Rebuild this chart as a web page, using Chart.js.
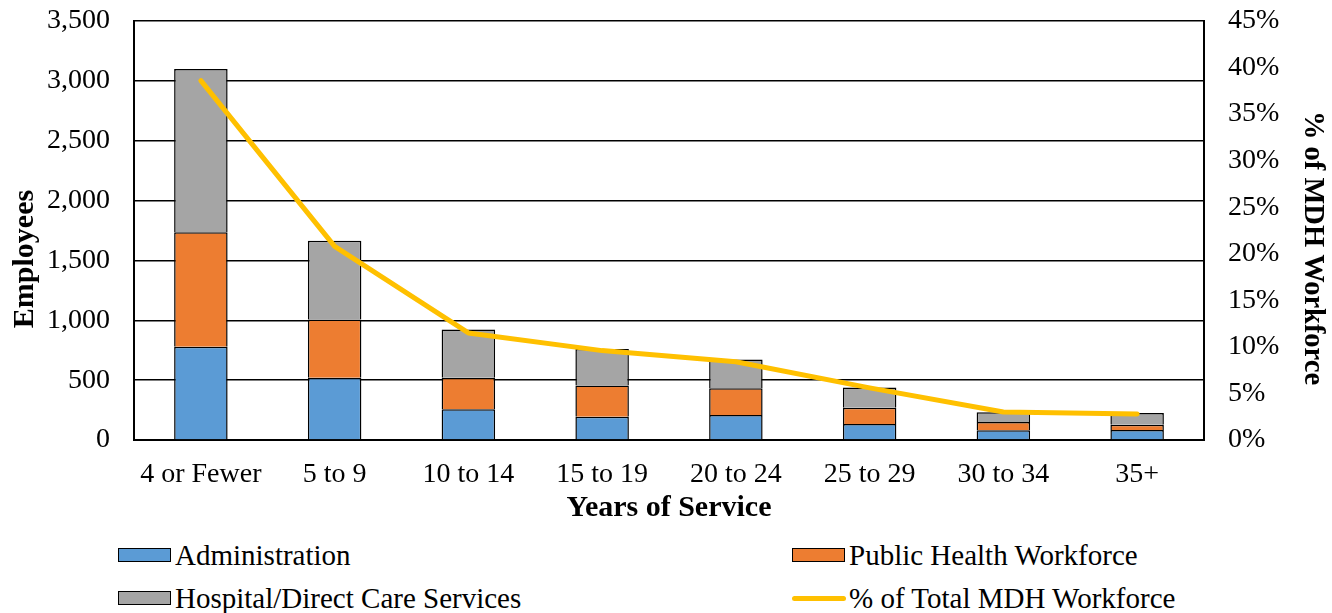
<!DOCTYPE html>
<html>
<head>
<meta charset="utf-8">
<script src="https://cdn.jsdelivr.net/npm/chart.js@4"></script>
<style>
  body { margin: 0; background: #fff; }
  #wrap { position: relative; width: 1332px; height: 613px; }
  #chart { position: absolute; left: 0; top: 0; }
  .leg { position: absolute; font-family: "Liberation Serif", "Times New Roman", serif; font-size: 29px; color: #000; white-space: nowrap; line-height: 32px; }
  .sw { position: absolute; width: 51px; height: 12px; border: 1.5px solid #000; }
  .ln { position: absolute; width: 54px; height: 5px; border-radius: 3px; }
</style>
</head>
<body>
<div id="wrap">
  <canvas id="chart" width="1332" height="530"></canvas>
  <div id="legend"></div>
</div>
<script>
const categories = ['4 or Fewer', '5 to 9', '10 to 14', '15 to 19', '20 to 24', '25 to 29', '30 to 34', '35+'];
const administration = [778, 519, 256, 194, 208, 133, 81, 83];
const publicHealth = [958, 487, 263, 262, 225, 136, 69, 45];
const hospitalCare = [1364, 658, 403, 305, 239, 170, 81, 97];
const pctTotal = [38.6, 20.8, 11.5, 9.6, 8.4, 5.6, 3.0, 2.8];
const employeeTicks = [0, 500, 1000, 1500, 2000, 2500, 3000, 3500];
const pctTicks = [0, 5, 10, 15, 20, 25, 30, 35, 40, 45];

const font = 'Liberation Serif';

// vertical axis titles sit a bit below the plot's middle in the original,
// so draw them by hand
const sideTitles = {
  id: 'sideTitles',
  afterDraw(c) {
    const g = c.ctx;
    g.save();
    g.fillStyle = '#000';
    g.textAlign = 'center';
    g.textBaseline = 'middle';
    g.font = 'bold 30px "' + font + '"';
    g.translate(25, 259);
    g.rotate(-Math.PI / 2);
    g.fillText('Employees', 0, 0);
    g.restore();
    g.save();
    g.fillStyle = '#000';
    g.textAlign = 'center';
    g.textBaseline = 'middle';
    g.font = 'bold 28.5px "' + font + '"';
    g.translate(1312, 248);
    g.rotate(Math.PI / 2);
    g.fillText('% of MDH Workforce', 0, 0);
    g.restore();
  }
};

var ctx = document.getElementById('chart').getContext('2d');
var chart = new Chart(ctx, {
  data: {
    labels: categories,
    datasets: [
      { type: 'line', label: '% of Total MDH Workforce', data: pctTotal, yAxisID: 'y1',
        borderColor: '#FFC000', backgroundColor: '#FFC000', borderWidth: 5,
        pointRadius: 0, borderCapStyle: 'round', borderJoinStyle: 'round', order: 0 },
      { type: 'bar', label: 'Administration', data: administration, yAxisID: 'y',
        backgroundColor: '#5B9BD5', borderColor: '#000', borderWidth: 1.5, order: 1 },
      { type: 'bar', label: 'Public Health Workforce', data: publicHealth, yAxisID: 'y',
        backgroundColor: '#ED7D31', borderColor: '#000', borderWidth: 1.5, order: 1 },
      { type: 'bar', label: 'Hospital/Direct Care Services', data: hospitalCare, yAxisID: 'y',
        backgroundColor: '#A5A5A5', borderColor: '#000', borderWidth: 1.5, order: 1 }
    ]
  },
  options: {
    responsive: false,
    animation: false,
    layout: { padding: { top: 21 } },
    datasets: { bar: { categoryPercentage: 1.0, barPercentage: 0.4 } },
    plugins: { legend: { display: false }, tooltip: { enabled: false } },
    scales: {
      x: {
        stacked: true,
        grid: { display: false },
        border: { color: '#000', width: 2 },
        ticks: { color: '#000', font: { family: font, size: 28 }, padding: 10, maxRotation: 0 },
        title: { display: true, text: 'Years of Service', color: '#000',
                 font: { family: font, size: 30, weight: 'bold' }, padding: { top: 0, bottom: 4 } },
        afterFit: s => { s.height = 90; }
      },
      y: {
        stacked: true,
        position: 'left',
        min: 0, max: 3500,
        afterBuildTicks: s => { s.ticks = employeeTicks.map(v => ({ value: v })); },
        grid: { color: '#000', lineWidth: 1.5, drawTicks: false },
        border: { color: '#000', width: 2 },
        ticks: { color: '#000', font: { family: font, size: 28 }, padding: 24,
                 callback: v => v.toLocaleString('en-US') },
        afterFit: s => { s.width = 134; s.paddingTop = 0; s.paddingBottom = 0; }
      },
      y1: {
        position: 'right',
        min: 0, max: 45,
        afterBuildTicks: s => { s.ticks = pctTicks.map(v => ({ value: v })); },
        grid: { display: false, drawTicks: false },
        border: { color: '#000', width: 2 },
        ticks: { color: '#000', font: { family: font, size: 28 }, padding: 24,
                 callback: v => v + '%' },
        afterFit: s => { s.width = 128; s.paddingTop = 0; s.paddingBottom = 0; }
      }
    }
  },
  plugins: [sideTitles]
});

// legend in two columns, built from the chart's datasets
const legendSpots = {
  'Administration': [118, 555],
  'Public Health Workforce': [792, 555],
  'Hospital/Direct Care Services': [118, 598],
  '% of Total MDH Workforce': [792, 598]
};
const legend = document.getElementById('legend');
chart.data.datasets.forEach(ds => {
  const [x, y] = legendSpots[ds.label];
  const sw = document.createElement('div');
  if (ds.type === 'line') {
    sw.className = 'ln';
    sw.style.left = x + 'px';
    sw.style.top = (y - 2.5) + 'px';
    sw.style.background = ds.borderColor;
  } else {
    sw.className = 'sw';
    sw.style.left = x + 'px';
    sw.style.top = (y - 7.5) + 'px';
    sw.style.background = ds.backgroundColor;
  }
  const t = document.createElement('div');
  t.className = 'leg';
  t.textContent = ds.label;
  t.style.left = (x + 57) + 'px';
  t.style.top = (y - 16) + 'px';
  legend.appendChild(sw);
  legend.appendChild(t);
});
</script>
</body>
</html>
